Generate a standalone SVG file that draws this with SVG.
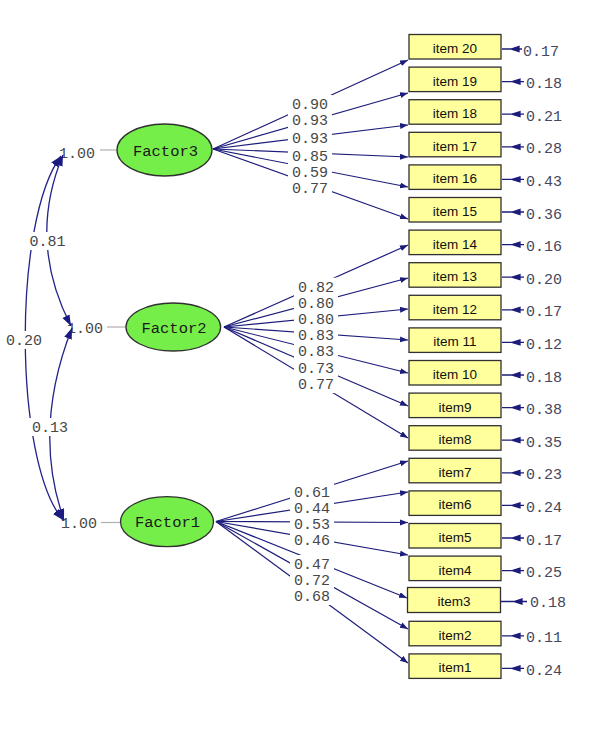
<svg xmlns="http://www.w3.org/2000/svg" width="594" height="756" viewBox="0 0 594 756">
<style>
.bg{fill:#ffffff}
.box{fill:#ffff9c;stroke:#303030;stroke-width:1.3}
.it{font-family:"Liberation Sans Narrow","Liberation Sans",Arial,sans-serif;font-size:13.5px;fill:#111;text-anchor:middle}
.fac{fill:#76ee4a;stroke:#303030;stroke-width:1.3}
.ft{font-family:"Liberation Mono","Courier New",monospace;font-size:15.5px;fill:#1a1a1a;text-anchor:middle}
.ln{stroke:#1c1c7a;stroke-width:1.2;fill:none;marker-end:url(#ah)}
.cv{stroke:#22228a;stroke-width:1.3;fill:none;marker-start:url(#ch);marker-end:url(#ch)}
.er{stroke:#1c1c7a;stroke-width:1.3;fill:#1c1c7a}
.vl{stroke:#b0b0b0;stroke-width:1.2}
.lb{fill:#ffffff}
.num{font-family:"Liberation Mono","Courier New",monospace;font-size:15px;fill:#474747;text-anchor:middle}
.ev{font-family:"Liberation Mono","Courier New",monospace;font-size:15px;fill:#46465e}
</style>
<defs>
<marker id="ah" markerUnits="userSpaceOnUse" markerWidth="9" markerHeight="7" refX="8" refY="3" orient="auto" viewBox="0 0 9 7">
<path d="M0,0 L8,3 L0,6 z" fill="#1c1c7a"/>
</marker>
<marker id="ch" markerUnits="userSpaceOnUse" markerWidth="12" markerHeight="9" refX="11" refY="4" orient="auto-start-reverse" viewBox="0 0 12 9">
<path d="M0,0 L11,4 L0,8 z" fill="#1a1a80"/>
</marker>
</defs>
<rect class="bg" x="0" y="0" width="594" height="756"/>

<g id="variance-labels">
<text class="num" x="77" y="158">1.00</text>
<text class="num" x="85" y="333">1.00</text>
<text class="num" x="79" y="528">1.00</text>
</g>

<g id="connectors">
<line class="ln" x1="213" y1="149" x2="408" y2="60"/>
<line class="ln" x1="213" y1="149" x2="408" y2="93"/>
<line class="ln" x1="213" y1="149" x2="408" y2="125"/>
<line class="ln" x1="213" y1="149" x2="408" y2="157"/>
<line class="ln" x1="213" y1="149" x2="408" y2="187"/>
<line class="ln" x1="213" y1="149" x2="408" y2="219"/>
<line class="ln" x1="224" y1="327" x2="408" y2="245"/>
<line class="ln" x1="224" y1="327" x2="408" y2="278"/>
<line class="ln" x1="224" y1="327" x2="408" y2="309"/>
<line class="ln" x1="224" y1="327" x2="408" y2="340"/>
<line class="ln" x1="224" y1="327" x2="408" y2="373"/>
<line class="ln" x1="224" y1="327" x2="408" y2="406"/>
<line class="ln" x1="224" y1="327" x2="408" y2="438"/>
<line class="ln" x1="216" y1="521.5" x2="408" y2="461"/>
<line class="ln" x1="216" y1="521.5" x2="408" y2="492"/>
<line class="ln" x1="216" y1="521.5" x2="408" y2="522.5"/>
<line class="ln" x1="216" y1="521.5" x2="408" y2="555"/>
<line class="ln" x1="216" y1="521.5" x2="407" y2="598"/>
<line class="ln" x1="216" y1="521.5" x2="408" y2="629"/>
<line class="ln" x1="216" y1="521.5" x2="408" y2="663"/>
<path class="cv" d="M63,155 Q27,241 71,326"/>
<path class="cv" d="M61,156 C13,220 13,460 63,520"/>
<path class="cv" d="M72,328 Q32,430 64,520"/>
<line class="vl" x1="100" y1="150" x2="117" y2="150"/>
<line class="vl" x1="107" y1="327" x2="126" y2="327"/>
<line class="vl" x1="101" y1="522.5" x2="121" y2="522.5"/>
<path class="er" d="M502,49 H522 M511,49 l8,-2.5 v5 z"/>
<path class="er" d="M502,81.6 H524 M512,81.6 l8,-2.5 v5 z"/>
<path class="er" d="M502,114.2 H524 M512,114.2 l8,-2.5 v5 z"/>
<path class="er" d="M502,146.8 H524 M512,146.8 l8,-2.5 v5 z"/>
<path class="er" d="M502,179.4 H524 M512,179.4 l8,-2.5 v5 z"/>
<path class="er" d="M502,212 H524 M512,212 l8,-2.5 v5 z"/>
<path class="er" d="M502,244.6 H524 M512,244.6 l8,-2.5 v5 z"/>
<path class="er" d="M502,277.2 H524 M512,277.2 l8,-2.5 v5 z"/>
<path class="er" d="M502,309.8 H524 M512,309.8 l8,-2.5 v5 z"/>
<path class="er" d="M502,342.4 H524 M512,342.4 l8,-2.5 v5 z"/>
<path class="er" d="M502,375 H524 M512,375 l8,-2.5 v5 z"/>
<path class="er" d="M502,407.6 H524 M512,407.6 l8,-2.5 v5 z"/>
<path class="er" d="M502,440.2 H524 M512,440.2 l8,-2.5 v5 z"/>
<path class="er" d="M502,472.8 H524 M512,472.8 l8,-2.5 v5 z"/>
<path class="er" d="M502,505.4 H524 M512,505.4 l8,-2.5 v5 z"/>
<path class="er" d="M502,538 H524 M512,538 l8,-2.5 v5 z"/>
<path class="er" d="M502,570.6 H524 M512,570.6 l8,-2.5 v5 z"/>
<path class="er" d="M501,601.5 H527 M514,601.5 l8,-2.5 v5 z"/>
<path class="er" d="M502,635.8 H524 M512,635.8 l8,-2.5 v5 z"/>
<path class="er" d="M502,668.4 H524 M512,668.4 l8,-2.5 v5 z"/>
</g>

<g id="label-backgrounds">
<rect class="lb" x="288" y="95" width="44" height="18"/>
<rect class="lb" x="288" y="111" width="44" height="18"/>
<rect class="lb" x="288" y="128.5" width="44" height="18"/>
<rect class="lb" x="288" y="146.5" width="44" height="18"/>
<rect class="lb" x="288" y="162.5" width="44" height="18"/>
<rect class="lb" x="288" y="179" width="44" height="18"/>
<rect class="lb" x="294" y="277.7" width="44" height="18"/>
<rect class="lb" x="294" y="293.7" width="44" height="18"/>
<rect class="lb" x="294" y="310" width="44" height="18"/>
<rect class="lb" x="294" y="326.3" width="44" height="18"/>
<rect class="lb" x="294" y="342.3" width="44" height="18"/>
<rect class="lb" x="294" y="358.7" width="44" height="18"/>
<rect class="lb" x="294" y="375" width="44" height="18"/>
<rect class="lb" x="290" y="482.7" width="44" height="18"/>
<rect class="lb" x="290" y="499.3" width="44" height="18"/>
<rect class="lb" x="290" y="515" width="44" height="18"/>
<rect class="lb" x="290" y="531" width="44" height="18"/>
<rect class="lb" x="290" y="555" width="44" height="18"/>
<rect class="lb" x="290" y="571" width="44" height="18"/>
<rect class="lb" x="290" y="587" width="44" height="18"/>
<rect class="lb" x="26" y="232" width="43" height="18"/>
<rect class="lb" x="3" y="331" width="43" height="18"/>
<rect class="lb" x="29" y="418" width="43" height="18"/>
</g>

<g id="labels">
<text class="num" x="310" y="109">0.90</text>
<text class="num" x="310" y="125">0.93</text>
<text class="num" x="310" y="142.5">0.93</text>
<text class="num" x="310" y="160.5">0.85</text>
<text class="num" x="310" y="176.5">0.59</text>
<text class="num" x="310" y="193">0.77</text>
<text class="num" x="316" y="291.7">0.82</text>
<text class="num" x="316" y="307.7">0.80</text>
<text class="num" x="316" y="324">0.80</text>
<text class="num" x="316" y="340.3">0.83</text>
<text class="num" x="316" y="356.3">0.83</text>
<text class="num" x="316" y="372.7">0.73</text>
<text class="num" x="316" y="389">0.77</text>
<text class="num" x="312" y="496.7">0.61</text>
<text class="num" x="312" y="513.3">0.44</text>
<text class="num" x="312" y="529">0.53</text>
<text class="num" x="312" y="545">0.46</text>
<text class="num" x="312" y="569">0.47</text>
<text class="num" x="312" y="585">0.72</text>
<text class="num" x="312" y="601">0.68</text>
<text class="num" x="47.5" y="246">0.81</text>
<text class="num" x="24" y="345">0.20</text>
<text class="num" x="50" y="432">0.13</text>
<text class="ev" x="523" y="56">0.17</text>
<text class="ev" x="526" y="88">0.18</text>
<text class="ev" x="526" y="120.7">0.21</text>
<text class="ev" x="526" y="153.3">0.28</text>
<text class="ev" x="526" y="185.9">0.43</text>
<text class="ev" x="526" y="218.5">0.36</text>
<text class="ev" x="526" y="251.1">0.16</text>
<text class="ev" x="526" y="283.7">0.20</text>
<text class="ev" x="526" y="316.3">0.17</text>
<text class="ev" x="526" y="348.9">0.12</text>
<text class="ev" x="526" y="381.5">0.18</text>
<text class="ev" x="526" y="414.1">0.38</text>
<text class="ev" x="526" y="446.7">0.35</text>
<text class="ev" x="526" y="479.3">0.23</text>
<text class="ev" x="526" y="511.9">0.24</text>
<text class="ev" x="526" y="544.5">0.17</text>
<text class="ev" x="526" y="577.1">0.25</text>
<text class="ev" x="530" y="607">0.18</text>
<text class="ev" x="526" y="642.3">0.11</text>
<text class="ev" x="526" y="674.9">0.24</text>
</g>

<g id="Factor3"><ellipse class="fac" cx="164.5" cy="150" rx="47.5" ry="26"/><text class="ft" x="165.5" y="155.5">Factor3</text></g>
<g id="Factor2"><ellipse class="fac" cx="173.3" cy="327" rx="47.3" ry="24"/><text class="ft" x="174" y="332.5">Factor2</text></g>
<g id="Factor1"><ellipse class="fac" cx="167" cy="521.7" rx="46.5" ry="25"/><text class="ft" x="167.5" y="527">Factor1</text></g>

<g id="item20"><rect class="box" x="409" y="34.5" width="92" height="24.5"/><text class="it" x="455" y="53">item 20</text></g>
<g id="item19"><rect class="box" x="409" y="67.1" width="92" height="24.5"/><text class="it" x="455" y="85.6">item 19</text></g>
<g id="item18"><rect class="box" x="409" y="99.7" width="92" height="24.5"/><text class="it" x="455" y="118.2">item 18</text></g>
<g id="item17"><rect class="box" x="409" y="132.3" width="92" height="24.5"/><text class="it" x="455" y="150.8">item 17</text></g>
<g id="item16"><rect class="box" x="409" y="164.9" width="92" height="24.5"/><text class="it" x="455" y="183.4">item 16</text></g>
<g id="item15"><rect class="box" x="409" y="197.5" width="92" height="24.5"/><text class="it" x="455" y="216">item 15</text></g>
<g id="item14"><rect class="box" x="409" y="230.1" width="92" height="24.5"/><text class="it" x="455" y="248.6">item 14</text></g>
<g id="item13"><rect class="box" x="409" y="262.7" width="92" height="24.5"/><text class="it" x="455" y="281.2">item 13</text></g>
<g id="item12"><rect class="box" x="409" y="295.3" width="92" height="24.5"/><text class="it" x="455" y="313.8">item 12</text></g>
<g id="item11"><rect class="box" x="409" y="327.9" width="92" height="24.5"/><text class="it" x="455" y="346.4">item 11</text></g>
<g id="item10"><rect class="box" x="409" y="360.5" width="92" height="24.5"/><text class="it" x="455" y="379">item 10</text></g>
<g id="item9"><rect class="box" x="409" y="393.1" width="92" height="24.5"/><text class="it" x="455" y="411.6">item9</text></g>
<g id="item8"><rect class="box" x="409" y="425.7" width="92" height="24.5"/><text class="it" x="455" y="444.2">item8</text></g>
<g id="item7"><rect class="box" x="409" y="458.3" width="92" height="24.5"/><text class="it" x="455" y="476.8">item7</text></g>
<g id="item6"><rect class="box" x="409" y="490.9" width="92" height="24.5"/><text class="it" x="455" y="509.4">item6</text></g>
<g id="item5"><rect class="box" x="409" y="523.5" width="92" height="24.5"/><text class="it" x="455" y="542">item5</text></g>
<g id="item4"><rect class="box" x="409" y="556.1" width="92" height="24.5"/><text class="it" x="455" y="574.6">item4</text></g>
<g id="item3"><rect class="box" x="407.5" y="587.5" width="93" height="25"/><text class="it" x="454" y="606.2">item3</text></g>
<g id="item2"><rect class="box" x="409" y="621.3" width="92" height="24.5"/><text class="it" x="455" y="639.8">item2</text></g>
<g id="item1"><rect class="box" x="409" y="653.9" width="92" height="24.5"/><text class="it" x="455" y="672.4">item1</text></g>
</svg>
